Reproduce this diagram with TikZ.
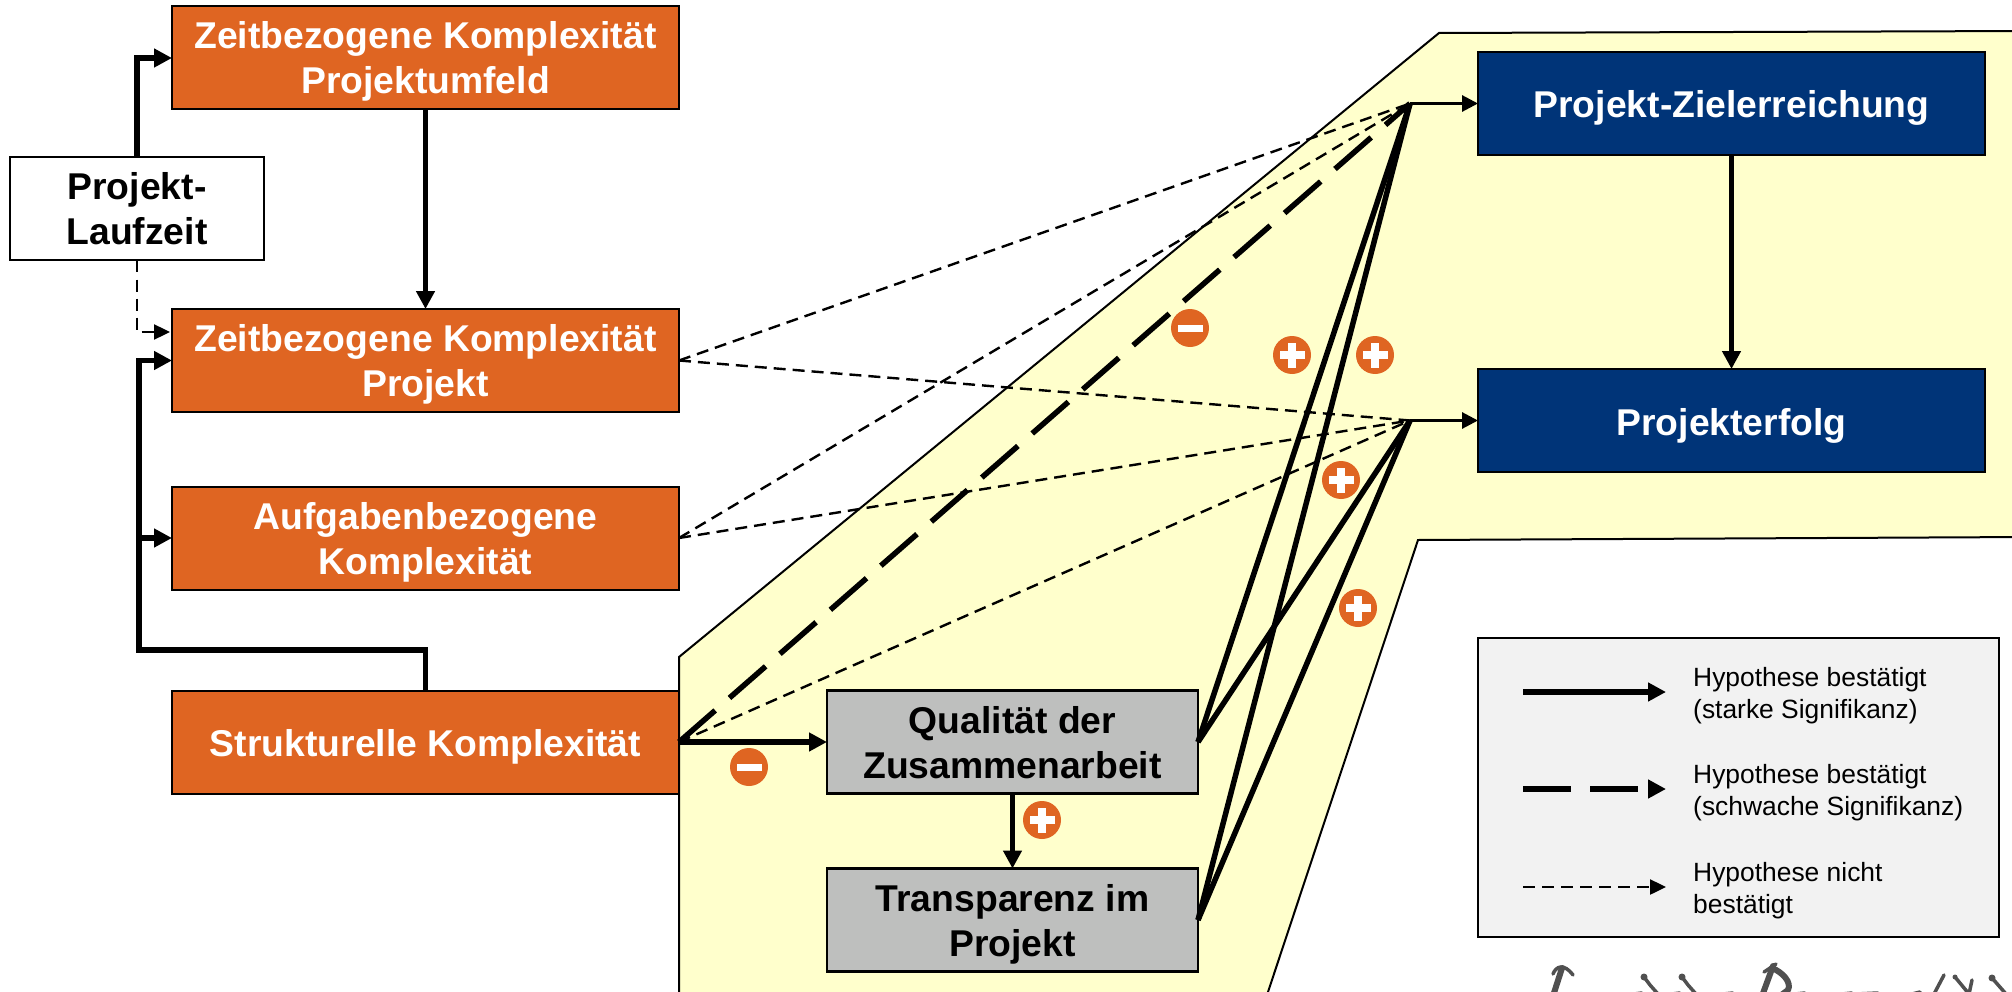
\documentclass[tikz,border=0pt]{standalone}
\usepackage{fontspec}
\setmainfont{Liberation Sans}
\usetikzlibrary{arrows.meta}
\definecolor{orangebox}{HTML}{DF6522}
\definecolor{bluebox}{HTML}{003478}
\definecolor{graybox}{HTML}{BEBFBE}
\definecolor{yellowbg}{HTML}{FFFFCC}
\definecolor{legendbg}{HTML}{F2F2F2}
\definecolor{sigink}{HTML}{505050}
\tikzset{
  basebox/.style={draw=black,line width=2pt,minimum width=507pt,minimum height=103pt,inner sep=0pt,outer sep=0pt,align=center,
    font=\fontsize{37.3}{45}\selectfont\bfseries,
    execute at end node={\rule[-9pt]{0pt}{9pt}}},
  oneline/.style={execute at begin node={\rule{0pt}{38pt}}},
  twoline/.style={execute at begin node={\rule{0pt}{81pt}}},
  orangenode/.style={basebox,fill=orangebox,text=white},
  bluenode/.style={basebox,fill=bluebox,text=white},
  whitenode/.style={basebox,fill=white,text=black,minimum width=254pt},
  graynode/.style={basebox,fill=graybox,text=black,minimum width=371pt,line width=2.5pt},
  legendnode/.style={draw=black,line width=2.5pt,fill=legendbg,minimum width=521pt,minimum height=299pt,inner sep=0pt,outer sep=0pt},
  legendtext/.style={anchor=west,align=left,inner sep=0pt,font=\fontsize{26.4}{32}\selectfont},
  strong/.style={line width=5.5pt,-{Triangle[length=18pt,width=18pt]}},
  strongplain/.style={line width=5.5pt},
  weak/.style={line width=5.5pt,dash pattern=on 48pt off 19pt,-{Triangle[length=18pt,width=18pt]}},
  weakplain/.style={line width=5.5pt,dash pattern=on 48pt off 19pt},
  none/.style={line width=2.4pt,dash pattern=on 12pt off 7pt,-{Triangle[length=16pt,width=15pt]}},
  noneplain/.style={line width=2.4pt,dash pattern=on 12pt off 7pt},
  outarrow/.style={line width=3pt,-{Triangle[length=16pt,width=16pt]}},
  badgebase/.style={circle,fill=orangebox,minimum size=38pt,inner sep=0pt,outer sep=0pt},
  minusbadge/.style={badgebase,path picture={\fill[white] ([xshift=-12.5pt,yshift=-3.5pt]path picture bounding box.center) rectangle ([xshift=12.5pt,yshift=3.5pt]path picture bounding box.center);}},
  plusbadge/.style={badgebase,path picture={
    \fill[white] ([xshift=-12.5pt,yshift=-4pt]path picture bounding box.center) rectangle ([xshift=12.5pt,yshift=4pt]path picture bounding box.center);
    \fill[white] ([xshift=-4pt,yshift=-12.5pt]path picture bounding box.center) rectangle ([xshift=4pt,yshift=12.5pt]path picture bounding box.center);}},
  sig/.style={draw=sigink,line width=3.5pt,line cap=round,line join=round},
  sigthick/.style={draw=sigink,line width=6pt,line cap=round,line join=round},
  sigdot/.style={fill=sigink}
}
\begin{document}
\begin{tikzpicture}[x=1pt,y=-1pt]
\useasboundingbox (0,0) rectangle (2012,992);
\clip (0,0) rectangle (2012,992);
\fill[white] (0,0) rectangle (2012,992);
% yellow background
\draw[fill=yellowbg,line width=2pt,line join=miter] (679,1010) -- (679,657) -- (1439,33) -- (2030,31) -- (2030,537) -- (1418,540) -- (1262,1010);
% junctions
\coordinate (j1) at (1410,103.5);
\coordinate (j2) at (1410,420.5);
% boxes
\node[orangenode,twoline] (umfeld) at (425.5,58) {Zeitbezogene Komplexität\\Projektumfeld};
\node[orangenode,twoline] (projekt) at (425.5,360.5) {Zeitbezogene Komplexität\\Projekt};
\node[orangenode,twoline] (aufgabe) at (425.5,538) {Aufgabenbezogene\\Komplexität};
\node[orangenode,oneline] (struktur) at (425.5,742) {Strukturelle Komplexität};
\node[whitenode,twoline] (laufzeit) at (137,209) {Projekt-\\Laufzeit};
\node[graynode,twoline] (quali) at (1012.5,742) {Qualität der\\Zusammenarbeit};
\node[graynode,twoline] (transp) at (1012.5,920) {Transparenz im\\Projekt};
\node[bluenode,oneline] (ziel) at (1731.5,103.5) {Projekt-Zielerreichung};
\node[bluenode,oneline] (erfolg) at (1731.5,420.5) {Projekterfolg};
% dashed hypotheses
\draw[noneplain] (projekt.east) -- (j1);
\draw[noneplain] (projekt.east) -- (j2);
\draw[noneplain] (aufgabe.east) -- (j1);
\draw[noneplain] (aufgabe.east) -- (j2);
\draw[noneplain] (struktur.east) -- (j2);
\draw[weakplain] (struktur.east) -- (j1);
% strong lines to junctions
\draw[strongplain] (quali.east) -- (j1);
\draw[strongplain] (quali.east) -- (j2);
\draw[strongplain] (transp.east) -- (j1);
\draw[strongplain] (transp.east) -- (j2);
\draw[outarrow] (j1) -- (ziel.west);
\draw[outarrow] (j2) -- (erfolg.west);
% arrows
\draw[strong] (struktur.east) -- (quali.west);
\draw[strong] (quali.south) -- (transp.north);
\draw[strong] (ziel.south) -- (erfolg.north);
\draw[strong] (umfeld.south) -- (projekt.north);
\coordinate (lfup) at (137,58);
\draw[strong] (laufzeit.north) -- (lfup) -- (umfeld.west);
\coordinate (lfdown) at (137,332);
\coordinate (lfend) at (170,332);
\draw[none] (laufzeit.south) -- (lfdown) -- (lfend);
\coordinate (busa) at (425.5,650);
\coordinate (busb) at (139,650);
\coordinate (busc) at (139,360.5);
\coordinate (busd) at (139,538);
\draw[strong] (struktur.north) -- (busa) -- (busb) -- (busc) -- (projekt.west);
\draw[strong] (busd) -- (aufgabe.west);
% badges
\node[minusbadge] (m1) at (1190,328) {};
\node[minusbadge] (m2) at (749,767) {};
\node[plusbadge] (p1) at (1292,355) {};
\node[plusbadge] (p2) at (1375,355) {};
\node[plusbadge] (p3) at (1341,480) {};
\node[plusbadge] (p4) at (1358,608) {};
\node[plusbadge] (p5) at (1042,820) {};
% legend
\node[legendnode] (legend) at (1738.5,787.5) {};
\coordinate (la) at (1523,692);
\coordinate (lb) at (1666,692);
\coordinate (lc) at (1523,789);
\coordinate (ld) at (1666,789);
\coordinate (le) at (1523,887);
\coordinate (lf) at (1666,887);
\draw[strong] (la) -- (lb);
\draw[weak] (lc) -- (ld);
\draw[none] (le) -- (lf);
\node[legendtext] (lt1) at (1693,696) {Hypothese bestätigt\\(starke Signifikanz)};
\node[legendtext] (lt2) at (1693,793) {Hypothese bestätigt\\(schwache Signifikanz)};
\node[legendtext] (lt3) at (1693,891) {Hypothese nicht\\bestätigt};
% cropped handwriting at the lower edge
\draw[sigthick] (1562,968) -- (1553,996);
\draw[sig] (1553,974) .. controls (1556,966) and (1564,963) .. (1573,975);
\draw[sigthick] (1773,966) -- (1762,996);
\draw[sig] (1764,972) -- (1776,964);
\draw[sigthick] (1772,968) .. controls (1782,972) and (1792,982) .. (1788,990) -- (1780,996);
\fill[sigdot] (1644,977) circle (3.5pt);
\fill[sigdot] (1682,977) circle (3.5pt);
\fill[sigdot] (1992,978) circle (3.5pt);
\fill[sigdot] (1955,977) circle (2.5pt);
\draw[sig] (1644,977) -- (1650,985) -- (1658,994);
\draw[sig] (1682,977) -- (1688,985) -- (1696,994);
\draw[sig] (1944,975) -- (1934,994);
\draw[sig] (1955,977) -- (1969,994);
\draw[sig] (1972,980) -- (1969,994);
\draw[sig] (1992,978) -- (2006,994);
\draw[sig] (1598,994) -- (1618,994);
\draw[sig] (1634,994) -- (1642,993);
\draw[sig] (1672,994) -- (1680,993);
\draw[sig] (1723,994) -- (1733,993);
\draw[sig] (1795,994) -- (1805,993);
\draw[sig] (1842,994) -- (1852,993);
\draw[sig] (1856,994) -- (1878,993);
\draw[sig] (1912,994) -- (1920,992);
\end{tikzpicture}
\end{document}
